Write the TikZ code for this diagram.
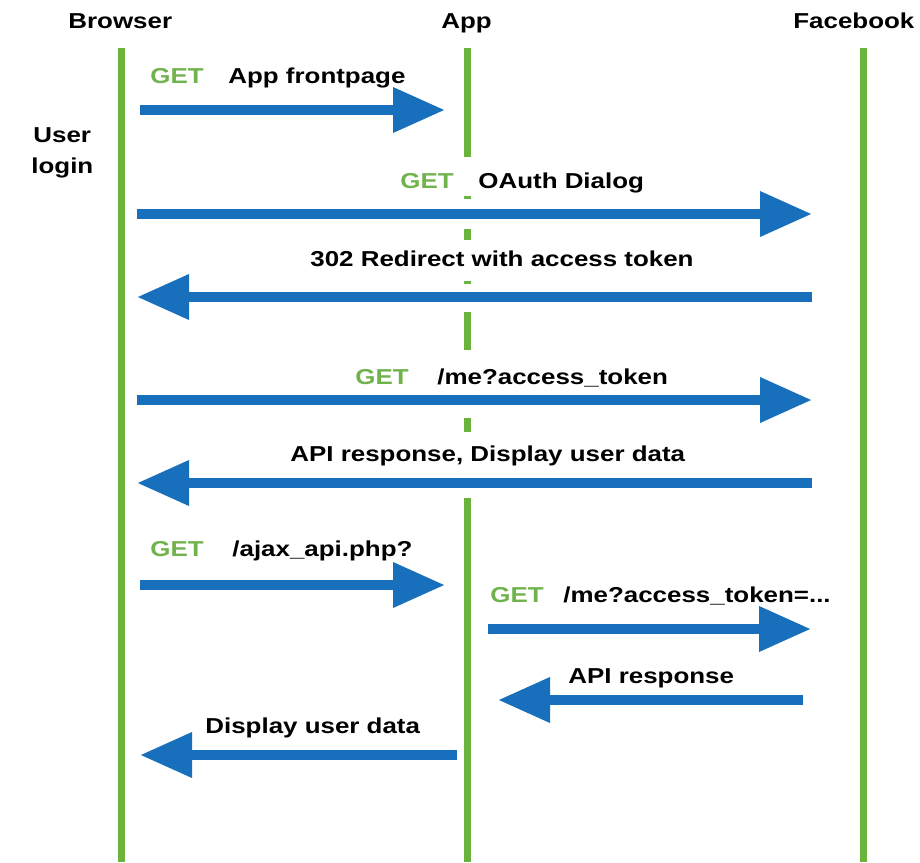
\documentclass[tikz,border=0pt]{standalone}
\usepackage{fontspec}
\setmainfont{Liberation Sans}[FakeStretch=1.2]
\usetikzlibrary{arrows.meta}
\definecolor{lgreen}{RGB}{106,180,62}
\definecolor{ggreen}{RGB}{112,178,76}
\definecolor{mblue}{RGB}{24,112,188}
\newcommand{\lblfont}{\fontsize{10.8pt}{13pt}\selectfont\bfseries}
\tikzset{
  life/.style={draw=lgreen, line width=3.5pt},
  msg/.style={draw=mblue, line width=5pt, -{Triangle[width=21.5pt,length=26pt]}},
  lbl/.style={anchor=base west, inner sep=0pt, font=\lblfont, text=black},
  getl/.style={lbl, text=ggreen},
}
\begin{document}
\begin{tikzpicture}[x=0.5pt,y=-0.5pt]
\useasboundingbox (0,0) rectangle (920,862);
% headers
\node[lbl] (hb) at (68,28) {Browser};
\node[lbl] (ha) at (441,28) {App};
\node[lbl] (hf) at (793,28) {Facebook};
\node[lbl] (u1) at (33,142) {User};
\node[lbl] (u2) at (31,173) {login};
% lifelines
\coordinate (bt) at (121,48); \coordinate (bb) at (121,862);
\coordinate (ft) at (863,48); \coordinate (fb) at (863,862);
\draw[life] (bt) -- (bb);
\draw[life] (ft) -- (fb);
\foreach \i/\a/\b in {1/48/157,2/196/199,3/229/240,4/281/284,5/312/350,6/418/432,7/498/862}{
  \coordinate (as\i) at (467,\a); \coordinate (ae\i) at (467,\b);
  \draw[life] (as\i) -- (ae\i);
}
% messages
\coordinate (m1s) at (140,110); \coordinate (m1e) at (445,110);
\draw[msg] (m1s) -- (m1e);
\node[getl] (g1) at (150,83) {GET};
\node[lbl] (t1) at (228,83) {App frontpage};

\coordinate (m2s) at (137,214); \coordinate (m2e) at (812,214);
\draw[msg] (m2s) -- (m2e);
\node[getl] (g2) at (400,188) {GET};
\node[lbl] (t2) at (478,188) {OAuth Dialog};

\coordinate (m3s) at (812,297); \coordinate (m3e) at (137,297);
\draw[msg] (m3s) -- (m3e);
\node[lbl] (t3) at (310,266) {302 Redirect with access token};

\coordinate (m4s) at (137,400); \coordinate (m4e) at (812,400);
\draw[msg] (m4s) -- (m4e);
\node[getl] (g4) at (355,384) {GET};
\node[lbl] (t4) at (437,384) {/me?access\_token};

\coordinate (m5s) at (812,483); \coordinate (m5e) at (137,483);
\draw[msg] (m5s) -- (m5e);
\node[lbl] (t5) at (290,461) {API response, Display user data};

\coordinate (m6s) at (140,585); \coordinate (m6e) at (445,585);
\draw[msg] (m6s) -- (m6e);
\node[getl] (g6) at (150,556) {GET};
\node[lbl] (t6) at (232,556) {/ajax\_api.php?};

\coordinate (m7s) at (488,629); \coordinate (m7e) at (811,629);
\draw[msg] (m7s) -- (m7e);
\node[getl] (g7) at (490,602) {GET};
\node[lbl] (t7) at (563,602) {/me?access\_token=...};

\coordinate (m8s) at (803,700); \coordinate (m8e) at (498,700);
\draw[msg] (m8s) -- (m8e);
\node[lbl] (t8) at (568,683) {API response};

\coordinate (m9s) at (457,755); \coordinate (m9e) at (140,755);
\draw[msg] (m9s) -- (m9e);
\node[lbl] (t9) at (205,733) {Display user data};
\end{tikzpicture}
\end{document}
